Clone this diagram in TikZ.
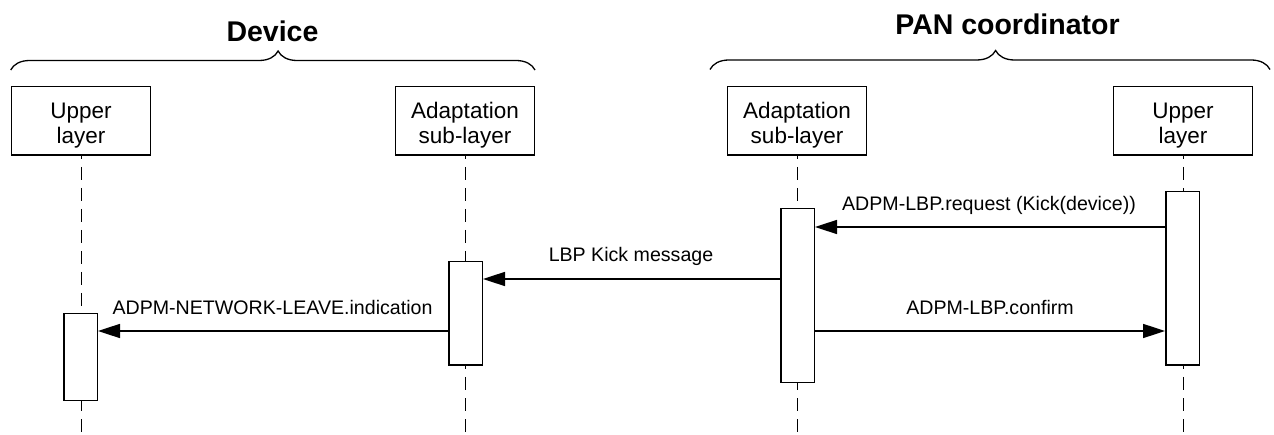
\documentclass[tikz,border=0pt]{standalone}
\usepackage{fontspec}
\setmainfont{Liberation Sans}
\usetikzlibrary{arrows.meta,decorations.pathreplacing}
% two centred lines with struts, so the text sits a little low in its box
\newcommand\boxlines[2]{\rule{0pt}{26pt}#1\\#2\rule[-5pt]{0pt}{5pt}}

\begin{document}
\begin{tikzpicture}[x=1pt,y=-1pt,
  grouptitle/.style={font=\fontsize{28.5}{30}\selectfont\bfseries, inner sep=0pt, anchor=base},
  groupbrace/.style={line width=1.3pt, decorate,
    decoration={brace, amplitude=19pt, aspect=0.51}},
  layerbox/.style={draw, line width=1.5pt, minimum width=139pt, minimum height=68.5pt,
    inner sep=0pt, align=center, font=\fontsize{22.5}{25}\selectfont},
  lifeline/.style={line width=1pt, dash pattern=on 13pt off 8pt, dash phase=-11pt},
  activation/.style={draw, fill=white, line width=1.5pt, minimum width=33.5pt, inner sep=0pt},
  msg/.style={line width=1.6pt, -{Triangle[length=22pt,width=14pt]}},
  msglabel/.style={font=\fontsize{19.6}{22}\selectfont, inner sep=0pt, anchor=base}
]
\useasboundingbox (0,0) rectangle (1274,435);

% group titles and braces
\node[grouptitle] (devtitle) at (272.5,42) {Device};
\node[grouptitle] (pantitle) at (1007.5,34.3) {PAN coordinator};
\coordinate (devbraceL) at (10.7,70);
\coordinate (devbraceR) at (535,70);
\coordinate (panbraceL) at (710,69.5);
\coordinate (panbraceR) at (1270,69.5);
\draw[groupbrace] (devbraceL) -- (devbraceR);
\draw[groupbrace] (panbraceL) -- (panbraceR);

% layer boxes
\node[layerbox] (devUL) at (81,121)   {\boxlines{Upper}{layer}};
\node[layerbox] (devAS) at (465,121)  {\boxlines{Adaptation}{sub-layer}};
\node[layerbox] (panAS) at (797,121)  {\boxlines{Adaptation}{sub-layer}};
\node[layerbox] (panUL) at (1183,121) {\boxlines{Upper}{layer}};

% lifelines
\foreach \b in {devUL,devAS,panAS,panUL}
  \draw[lifeline] (\b.south) -- (\b.south |- 0,435);

% activation bars
\node[activation, minimum height=86.5pt]  (devULact) at (80.5,357)   {};
\node[activation, minimum height=103.5pt] (devASact) at (465.5,313.5) {};
\node[activation, minimum height=173.5pt] (panASact) at (797.5,295.5) {};
\node[activation, minimum height=173.5pt] (panULact) at (1182.5,278.5) {};

% messages
\draw[msg] (panULact.west |- 0,227) -- (panASact.east |- 0,227);
\node[msglabel] (lblreq) at (989,210.5) {ADPM-LBP.request (Kick(device))};

\draw[msg] (panASact.west |- 0,279) -- (devASact.east |- 0,279);
\node[msglabel] (lblkick) at (631,262) {LBP Kick message};

\draw[msg] (panASact.east |- 0,331) -- (panULact.west |- 0,331);
\node[msglabel] (lblconf) at (990,315) {ADPM-LBP.confirm};

\draw[msg] (devASact.west |- 0,331) -- (devULact.east |- 0,331);
\node[msglabel] (lblind) at (272.5,315) {ADPM-NETWORK-LEAVE.indication};
\end{tikzpicture}
\end{document}
